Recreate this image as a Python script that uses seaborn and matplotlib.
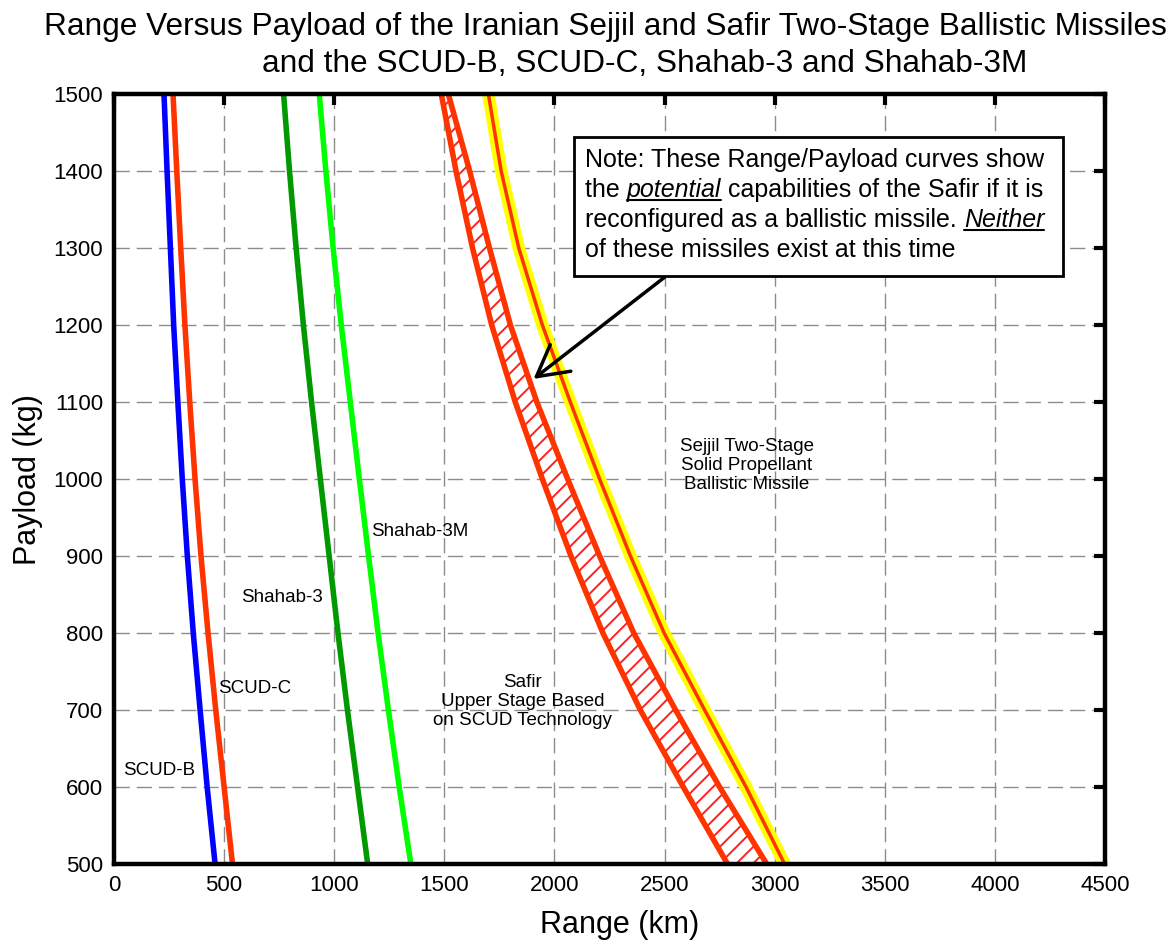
import matplotlib
matplotlib.use("Agg")
import matplotlib.pyplot as plt
import seaborn as sns
from matplotlib.lines import Line2D
from matplotlib.patches import Rectangle

# payload levels (kg) shared by every curve
payload = [500, 600, 700, 800, 900, 1000, 1100, 1200, 1300, 1400, 1500]

# range (km) at each payload level
scud_b = [459, 423, 391, 360, 333, 310, 290, 271, 256, 241, 227]
scud_c = [538, 500, 462, 427, 395, 368, 344, 322, 303, 285, 268]
shahab3 = [1152, 1106, 1060, 1017, 977, 937, 897, 860, 827, 797, 770]
shahab3m = [1348, 1295, 1246, 1199, 1156, 1114, 1073, 1032, 995, 962, 932]
safir_low = [2786, 2585, 2390, 2220, 2075, 1945, 1822, 1715, 1628, 1553, 1486]
safir_high = [2964, 2750, 2550, 2360, 2205, 2060, 1920, 1800, 1705, 1615, 1518]
sejjil = [3045, 2870, 2682, 2498, 2345, 2205, 2072, 1945, 1838, 1758, 1700]

title_1 = "Range Versus Payload of the Iranian Sejjil and Safir Two-Stage Ballistic Missiles"
title_2 = "and the SCUD-B, SCUD-C, Shahab-3 and Shahab-3M"

W, H = 1172, 946

sns.set_style("white", rc={'text.color': 'black', 'axes.labelcolor': 'black',
                           'xtick.color': 'black', 'ytick.color': 'black'})
plt.rcParams['font.family'] = ['Liberation Sans', 'DejaVu Sans']
plt.rcParams['hatch.linewidth'] = 1.4
plt.rcParams['hatch.color'] = '#FF2020'

fig = plt.figure(figsize=(W / 100, H / 100), dpi=100)
ax = fig.add_axes([114 / W, 1 - 864 / H, (1105 - 114) / W, (864 - 94) / H])

red = '#FF3300'

# Safir band (hatched)
ax.fill_betweenx(payload, safir_low, safir_high, facecolor='white',
                 hatch='//', edgecolor='#FF2020', linewidth=0, zorder=2)
sns.lineplot(x=safir_low, y=payload, sort=False, estimator=None, color=red, lw=4, ax=ax, zorder=3)
sns.lineplot(x=safir_high, y=payload, sort=False, estimator=None, color=red, lw=4, ax=ax, zorder=3)

# other missiles
sns.lineplot(x=scud_b, y=payload, sort=False, estimator=None, color='#0000FF', lw=4, ax=ax, zorder=3)
sns.lineplot(x=scud_c, y=payload, sort=False, estimator=None, color=red, lw=4, ax=ax, zorder=3)
sns.lineplot(x=shahab3, y=payload, sort=False, estimator=None, color='#009900', lw=4, ax=ax, zorder=3)
sns.lineplot(x=shahab3m, y=payload, sort=False, estimator=None, color='#00FF00', lw=4, ax=ax, zorder=3)

# Sejjil: yellow casing with red core
sns.lineplot(x=sejjil, y=payload, sort=False, estimator=None, color='#FFFF00', lw=9,
             ax=ax, zorder=3, solid_capstyle='round')
sns.lineplot(x=sejjil, y=payload, sort=False, estimator=None, color=red, lw=2.5, ax=ax, zorder=4)

ax.set_xlim(0, 4500)
ax.set_ylim(500, 1500)
ax.set_xticks(range(0, 4501, 500))
ax.set_yticks(range(500, 1501, 100))
ax.set_axisbelow(True)
ax.grid(True, color='#8c8c8c', linestyle=(0, (11, 5)), lw=1)
ax.tick_params(direction='in', length=8, width=3, top=True, right=True,
               labelsize=16, pad=8, colors='black')
for sp in ax.spines.values():
    sp.set_linewidth(3.2)
    sp.set_color('black')
    sp.set_zorder(6)

ax.set_xlabel("Range (km)", fontsize=22)
ax.set_ylabel("Payload (kg)", fontsize=22)
ax.xaxis.set_label_coords((620 - 114) / (1105 - 114), -(925 - 864) / (864 - 94))
ax.yaxis.set_label_coords(-(114 - 28) / (1105 - 114), (864 - 480) / (864 - 94))
ax.xaxis.label.set_va('center')
ax.yaxis.label.set_va('center')

# curve labels
lab = dict(fontsize=13.5, ha='center', va='center', zorder=5)
ax.text(205, 621, "SCUD-B", **lab)
ax.text(641, 728, "SCUD-C", **lab)
ax.text(763, 846, "Shahab-3", **lab)
ax.text(1387, 932, "Shahab-3M", **lab)
ax.text(1855, 711, "Safir\nUpper Stage Based\non SCUD Technology", multialignment='center',
        linespacing=1.15, **lab)
ax.text(2873, 1017, "Sejjil Two-Stage\nSolid Propellant\nBallistic Missile", multialignment='center',
        linespacing=1.15, **lab)

# title (two lines, offset as in the original)
fig.text(605 / W, 1 - 35 / H, title_1, fontsize=22.8, ha='center', va='baseline')
fig.text(645 / W, 1 - 72 / H, title_2, fontsize=22.8, ha='center', va='baseline')

# note box and arrow
ax.add_patch(Rectangle((2091, 1263), 4309 - 2091, 1444 - 1263, facecolor='white',
                       edgecolor='black', lw=2, zorder=7))
ax.annotate('', xy=(1905, 1130), xytext=(2500, 1262),
            arrowprops=dict(arrowstyle='->,head_length=1.0,head_width=0.55', lw=2.5,
                            color='black', shrinkA=0, shrinkB=0, mutation_scale=22),
            zorder=7)

fig.canvas.draw()
renderer = fig.canvas.get_renderer()


def advance(txt, style):
    # width of txt including trailing spaces, in pixels
    t1 = fig.text(0, 0, txt + '|', fontsize=18, style=style)
    t2 = fig.text(0, 0, '|', fontsize=18, style=style)
    w = t1.get_window_extent(renderer).width - t2.get_window_extent(renderer).width
    t1.remove()
    t2.remove()
    return w


note_lines = [
    [("Note: These Range/Payload curves show", 'normal', False)],
    [("the ", 'normal', False), ("potential", 'italic', True), (" capabilities of the Safir if it is", 'normal', False)],
    [("reconfigured as a ballistic missile. ", 'normal', False), ("Neither", 'italic', True)],
    [("of these missiles exist at this time", 'normal', False)],
]
baselines = [167, 197, 227, 257]
for segs, yb in zip(note_lines, baselines):
    x = 585
    for txt, style, under in segs:
        fig.text(x / W, 1 - yb / H, txt, fontsize=18, style=style, ha='left', va='baseline', zorder=8)
        w = advance(txt, style)
        if under:
            fig.add_artist(Line2D([x / W, (x + w) / W], [1 - (yb + 3) / H] * 2,
                                  color='black', lw=1.5, transform=fig.transFigure, zorder=8))
        x += w

fig.savefig("out.png", dpi=100)
